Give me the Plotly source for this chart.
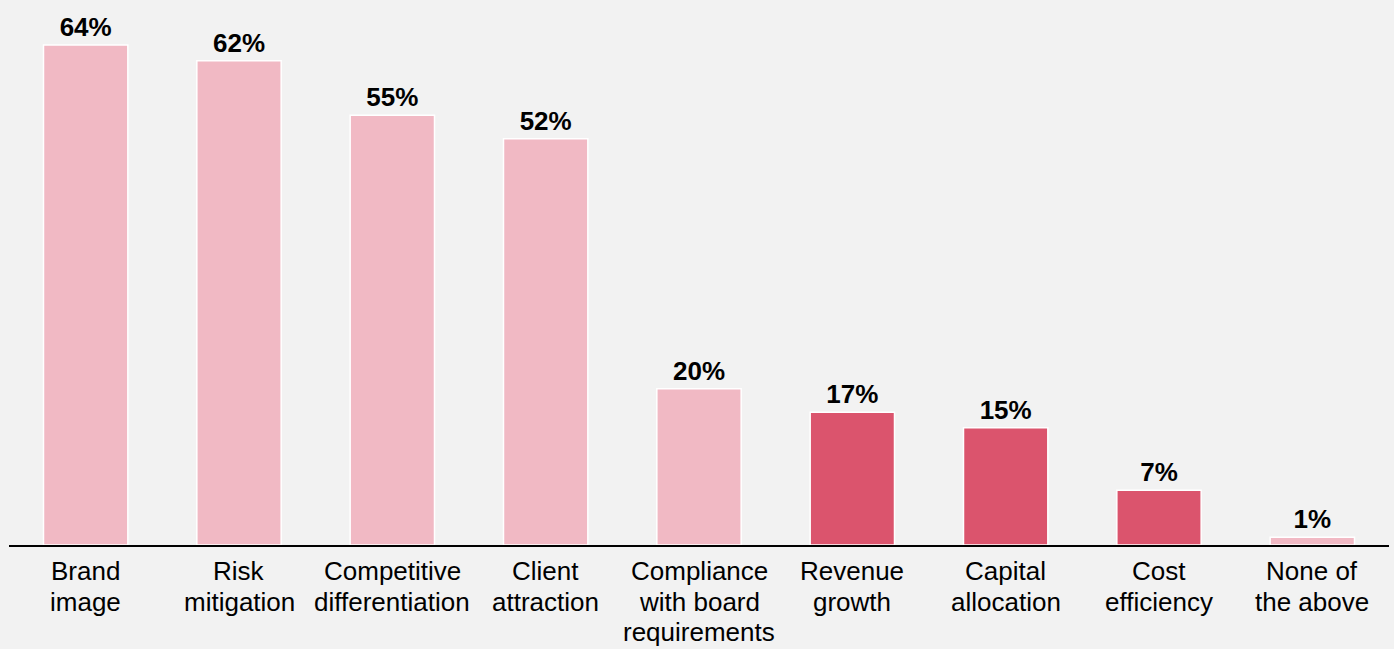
import plotly.graph_objects as go

categories = ["Brand image", "Risk mitigation", "Competitive differentiation",
              "Client attraction", "Compliance with board requirements",
              "Revenue growth", "Capital allocation", "Cost efficiency",
              "None of the above"]
label_lines = [["Brand", "image"], ["Risk", "mitigation"], ["Competitive", "differentiation"],
               ["Client", "attraction"], ["Compliance", "with board", "requirements"],
               ["Revenue", "growth"], ["Capital", "allocation"], ["Cost", "efficiency"],
               ["None of", "the above"]]
values = [64, 62, 55, 52, 20, 17, 15, 7, 1]
highlight = [False, False, False, False, False, True, True, True, False]

LIGHT = "#F1B9C4"
DARK = "#DB546D"
colors = [DARK if h else LIGHT for h in highlight]
FONT = "Liberation Sans, Arial"

fig = go.Figure(go.Bar(
    x=categories, y=values,
    marker=dict(color=colors, line=dict(color="white", width=1.5)),
    width=0.55,
    text=[f"{v}%" for v in values],
    textposition="outside",
    textfont=dict(family=FONT, size=26, color="black", weight="bold"),
    cliponaxis=False,
))

annotations = []
for cat, lines in zip(categories, label_lines):
    for i, line in enumerate(lines):
        annotations.append(dict(
            x=cat, y=0, xref="x", yref="y", text=line, showarrow=False,
            yanchor="middle", xanchor="center", yshift=-(26 + i * 30.7),
            font=dict(family=FONT, size=26, color="black"),
        ))

fig.update_layout(
    width=1394, height=649,
    margin=dict(l=9, r=5, t=0, b=104),
    paper_bgcolor="#F2F2F2", plot_bgcolor="#F2F2F2",
    showlegend=False,
    font=dict(family=FONT, size=26, color="black"),
    annotations=annotations,
)
fig.update_xaxes(showline=True, linecolor="black", linewidth=2, ticks="",
                 showticklabels=False, showgrid=False)
fig.update_yaxes(visible=False, range=[0, 69.76], showgrid=False, zeroline=False)

fig.write_html("out.html")
